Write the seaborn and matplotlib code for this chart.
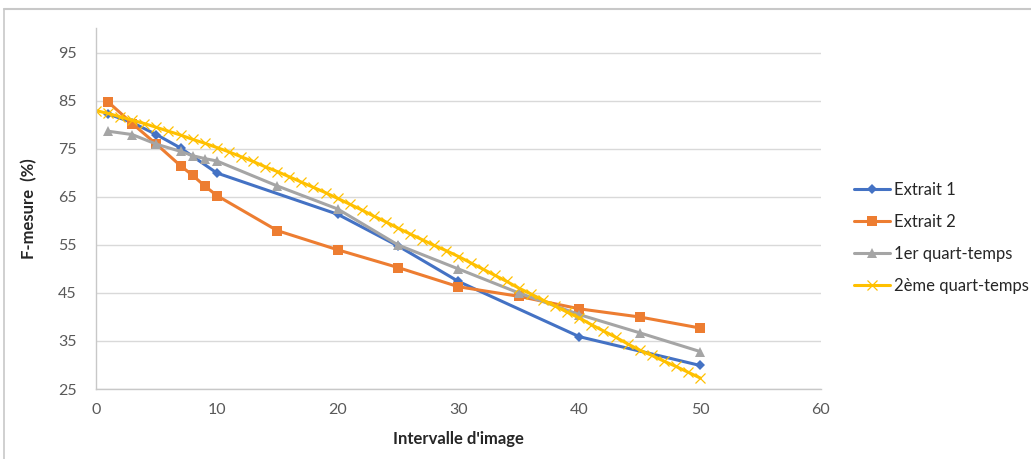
import numpy as np
import pandas as pd
import seaborn as sns
import matplotlib.pyplot as plt
from matplotlib.lines import Line2D

# Values
x_extrait1 = [1, 3, 5, 7, 10, 20, 25, 30, 40, 50]
y_extrait1 = [82.3, 80.5, 78.0, 75.2, 70.0, 61.4, 54.8, 47.4, 35.9, 29.9]

x_extrait2 = [1, 3, 5, 7, 8, 9, 10, 15, 20, 25, 30, 35, 40, 45, 50]
y_extrait2 = [84.8, 80.3, 76.0, 71.5, 69.5, 67.3, 65.3, 58.0, 54.0, 50.3, 46.3, 44.3, 41.7, 40.0, 37.7]

x_q1 = [1, 3, 5, 7, 8, 9, 10, 15, 20, 25, 30, 35, 40, 45, 50]
y_q1 = [78.7, 78.0, 76.0, 74.5, 73.6, 73.0, 72.5, 67.3, 62.5, 55.0, 50.0, 45.0, 40.5, 36.7, 32.8]

x_q2 = list(range(0, 51))
y_q2 = [83.0, 82.4, 81.7, 81.0, 80.3, 79.5, 78.7, 77.9, 77.0, 76.2,
        75.3, 74.4, 73.4, 72.4, 71.3, 70.3, 69.2, 68.1, 67.0, 65.9,
        64.7, 63.5, 62.3, 61.0, 59.8, 58.5, 57.3, 56.1, 54.9, 53.8,
        52.6, 51.3, 50.0, 48.7, 47.4, 46.0, 44.8, 43.5, 42.3, 41.0,
        39.8, 38.4, 37.1, 35.8, 34.4, 33.1, 32.0, 30.8, 29.7, 28.5,
        27.3]

labels = ['Extrait 1', 'Extrait 2', '1er quart-temps', '2ème quart-temps']
colors = ['#4472C4', '#ED7D31', '#A5A5A5', '#FFC000']
markers = ['D', 's', '^', 'x']

sns.set_style('white')
plt.rcParams['font.family'] = ['Lato', 'DejaVu Sans']

fig = plt.figure(figsize=(10.31, 4.59), dpi=100)
ax = fig.add_axes([0.0931, 0.1525, 0.7032, 0.7865])

series = [(x_extrait1, y_extrait1), (x_extrait2, y_extrait2), (x_q1, y_q1), (x_q2, y_q2)]
msizes = [5, 6.5, 7, 7.5]
for (xs, ys), lab, col, mk, ms in zip(series, labels, colors, markers, msizes):
    sns.lineplot(x=xs, y=ys, ax=ax, color=col, marker=mk, markersize=ms,
                 markeredgecolor=col, markeredgewidth=0.9 if mk == 'x' else 0,
                 linewidth=2.2, label=lab, sort=False)

ax.set_xlim(0, 60)
ax.set_ylim(25, 100.2)
ax.set_xticks(range(0, 61, 10))
ax.set_yticks(range(25, 96, 10))
ax.grid(axis='y', color='#D9D9D9', linewidth=1)
ax.set_axisbelow(True)
for s in ['top', 'right']:
    ax.spines[s].set_visible(False)
for s in ['left', 'bottom']:
    ax.spines[s].set_color('#C8C8C8')
    ax.spines[s].set_linewidth(1)
ax.tick_params(axis='both', length=0, labelsize=11.5, labelcolor='#595959')
ax.tick_params(axis='y', pad=14)
ax.tick_params(axis='x', pad=10)

ax.set_xlabel("Intervalle d'image", fontsize=12, fontweight='bold', labelpad=10)
ax.set_ylabel('F-mesure  (%)', fontsize=12, fontweight='bold', labelpad=15)

# legend to the right, no frame
handles = [Line2D([0], [0], color=c, marker=m, markersize=ms, linewidth=2.2,
                  markeredgecolor=c, markeredgewidth=0.9 if m == 'x' else 0)
           for c, m, ms in zip(colors, markers, msizes)]
ax.legend(handles, labels, loc='center left', bbox_to_anchor=(0.828, 0.4815),
          bbox_transform=fig.transFigure, frameon=False, fontsize=12,
          handlelength=2.2, handletextpad=0.2, labelspacing=0.95,
          borderpad=0, borderaxespad=0)

# outer chart frame
fig.add_artist(Line2D([4 / 1031, 4 / 1031], [0, 1 - 9 / 459], transform=fig.transFigure,
                      color='#C8C8C8', linewidth=1.2))
fig.add_artist(Line2D([4 / 1031, 1], [1 - 9 / 459, 1 - 9 / 459], transform=fig.transFigure,
                      color='#C8C8C8', linewidth=1.5))

plt.savefig('out.png', dpi=100)
